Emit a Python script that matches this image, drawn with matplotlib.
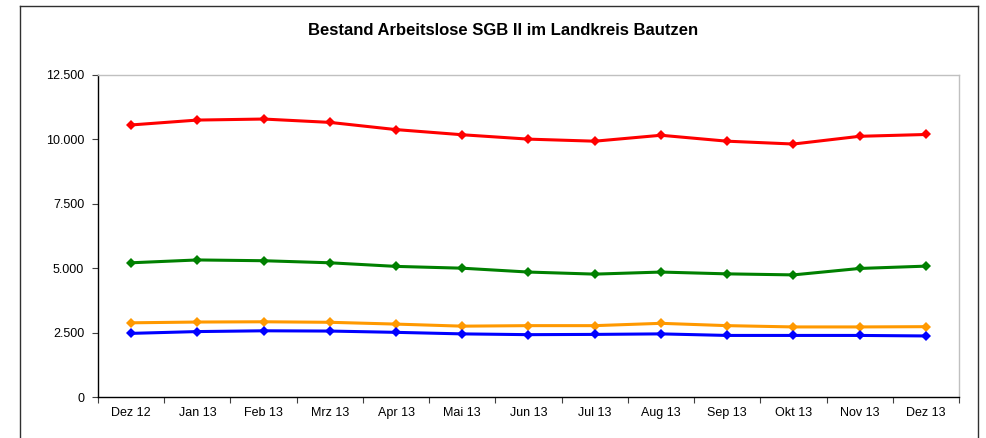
import matplotlib.pyplot as plt
from matplotlib.lines import Line2D
from matplotlib.ticker import FuncFormatter

plt.rcParams["font.family"] = ["Liberation Sans", "DejaVu Sans"]

# Monate
months = ["Dez 12", "Jan 13", "Feb 13", "Mrz 13", "Apr 13", "Mai 13", "Jun 13",
          "Jul 13", "Aug 13", "Sep 13", "Okt 13", "Nov 13", "Dez 13"]

# Bestandszahlen
red_vals = [10560, 10750, 10790, 10660, 10380, 10180, 10010,
            9930, 10160, 9930, 9820, 10120, 10190]
green_vals = [5210, 5320, 5290, 5210, 5070, 5000, 4850,
              4770, 4850, 4780, 4740, 4990, 5080]
orange_vals = [2880, 2910, 2920, 2900, 2830, 2750, 2770,
               2770, 2860, 2770, 2720, 2720, 2730]
blue_vals = [2470, 2540, 2570, 2560, 2510, 2450, 2420,
             2430, 2450, 2390, 2390, 2390, 2370]

series = [
    (red_vals, "#FF0000"),
    (green_vals, "#008000"),
    (orange_vals, "#FF9900"),
    (blue_vals, "#0000FF"),
]


def main():
    fig = plt.figure(figsize=(9.86, 4.38), dpi=100)
    ax = fig.add_axes([0.0994, 0.0936, 0.8732, 0.7352])

    x = list(range(len(months)))
    for vals, color in series:
        ax.plot(x, vals, color=color, linewidth=2.2, marker="D",
                markersize=5, markeredgewidth=0, zorder=3)

    ax.set_xlim(-0.5, len(months) - 0.5)
    ax.set_ylim(0, 12500)
    ax.set_yticks([0, 2500, 5000, 7500, 10000, 12500])
    ax.yaxis.set_major_formatter(
        FuncFormatter(lambda v, p: f"{int(v):,}".replace(",", ".")))

    # Excel-Stil: Kategorien zwischen den Teilstrichen
    ax.set_xticks([i + 0.5 for i in range(-1, len(months))])
    ax.set_xticklabels([])
    ax.set_xticks(x, minor=True)
    ax.set_xticklabels(months, minor=True)
    ax.tick_params(axis="x", which="minor", length=0, pad=7, labelsize=9)
    ax.tick_params(axis="x", which="major", length=4, direction="out",
                   color="#404040")
    ax.tick_params(axis="y", length=4, direction="out", labelsize=9,
                   pad=6, color="#404040")

    ax.spines["left"].set_color("black")
    ax.spines["bottom"].set_color("black")
    ax.spines["top"].set_color("#C0C0C0")
    ax.spines["right"].set_color("#C0C0C0")
    for s in ax.spines.values():
        s.set_linewidth(1.0)

    fig.text(0.51, 0.93, "Bestand Arbeitslose SGB II im Landkreis Bautzen",
             ha="center", va="center", fontsize=12, fontweight="bold")

    # Rahmen um das Diagramm
    l, r, t = 19.5 / 986, 977.5 / 986, 1 - 5.5 / 438
    for xs, ys in [([l, l], [-0.1, t]), ([l, r], [t, t]), ([r, r], [t, -0.1])]:
        fig.add_artist(Line2D(xs, ys, transform=fig.transFigure,
                              color="#303030", linewidth=1.0))

    fig.savefig("out.png", dpi=100)


if __name__ == "__main__":
    main()
